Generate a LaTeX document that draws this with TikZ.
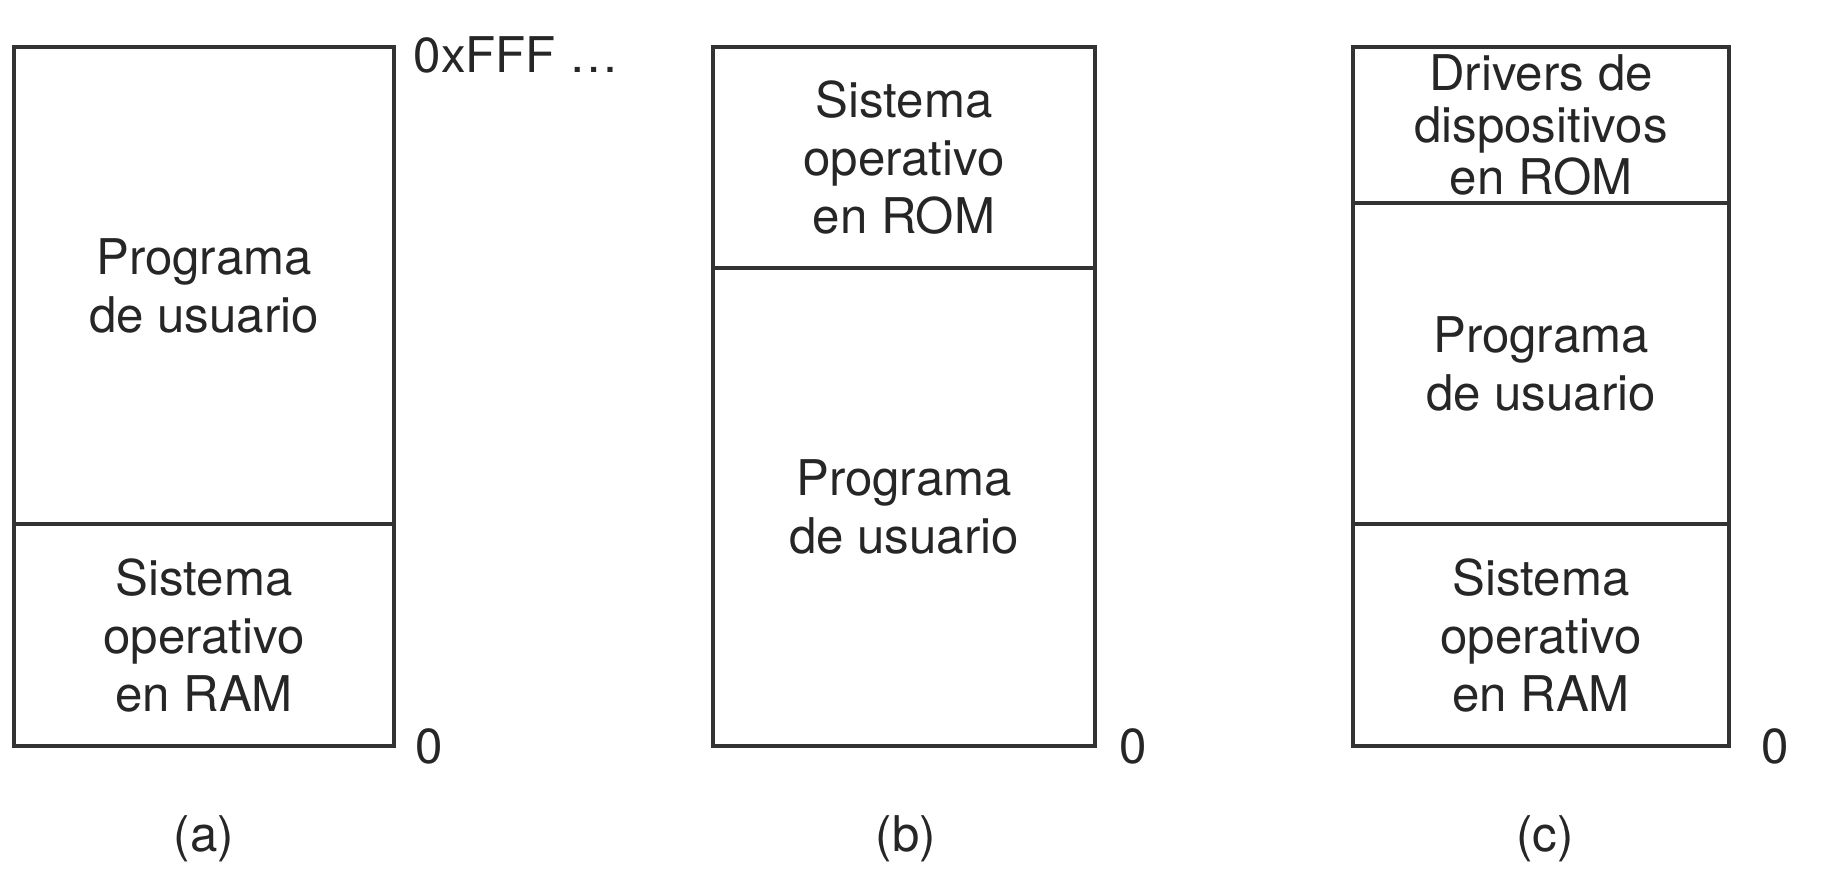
\documentclass[tikz,border=0pt]{standalone}
\usepackage{fontspec}
\setmainfont{TeX Gyre Heros}
\usetikzlibrary{positioning}

\begin{document}
\begin{tikzpicture}[
  region/.style={draw=black!80,line width=1.2pt,rectangle,align=center,text=black!85,font=\fontsize{14}{16.5}\selectfont},
  addr/.style={inner sep=0pt,text=black!85,font=\fontsize{14}{16.5}\selectfont}
]
\useasboundingbox (0,0) rectangle (18.31,8.69);
% (a)
\node[region,minimum width=3.8 cm,minimum height=4.77 cm] (PUa) at (2.04,5.835) {Programa\\de usuario};
\node[region,minimum width=3.8 cm,minimum height=2.22 cm] (SOa) at (2.04,2.34) {Sistema\\operativo\\en RAM};
\node[addr,anchor=west] (TOPa) at (4.13,8.14) {0xFFF \dots};
\node[addr,anchor=west] (ZEROa) at (4.15,1.23) {0};
\node[addr] (CAPa) at (2.04,0.30) {(a)};
% (b)
\node[region,minimum width=3.82 cm,minimum height=2.21 cm] (SOb) at (9.04,7.115) {Sistema\\operativo\\en ROM};
\node[region,minimum width=3.82 cm,minimum height=4.78 cm] (PUb) at (9.04,3.62) {Programa\\de usuario};
\node[addr,anchor=west] (ZEROb) at (11.19,1.23) {0};
\node[addr] (CAPb) at (9.06,0.30) {(b)};
% (c)
\node[region,minimum width=3.76 cm,minimum height=1.56 cm,inner ysep=0pt,font=\fontsize{14}{14.8}\selectfont] (DRc) at (15.41,7.44) {Drivers de\\dispositivos\\en ROM};
\node[region,minimum width=3.76 cm,minimum height=3.21 cm] (PUc) at (15.41,5.055) {Programa\\de usuario};
\node[region,minimum width=3.76 cm,minimum height=2.22 cm] (SOc) at (15.41,2.34) {Sistema\\operativo\\en RAM};
\node[addr,anchor=west] (ZEROc) at (17.61,1.23) {0};
\node[addr] (CAPc) at (15.45,0.30) {(c)};
\end{tikzpicture}
\end{document}
